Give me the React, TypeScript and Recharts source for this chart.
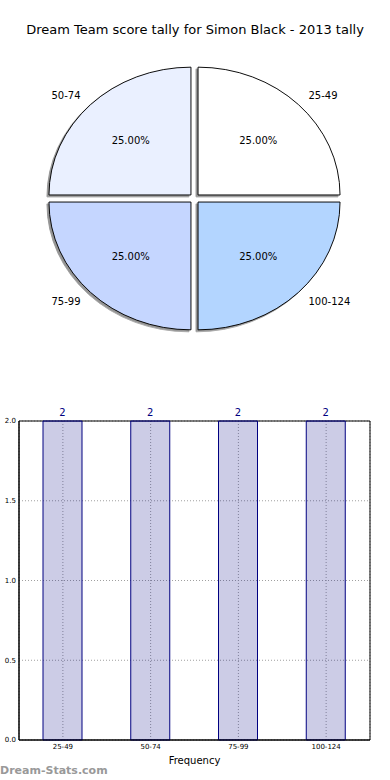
import React from 'react';
import {
  PieChart, Pie, Cell, BarChart, Bar, XAxis, YAxis, CartesianGrid, LabelList, ReferenceArea, Label,
} from 'recharts';

const TITLE = 'Dream Team score tally for Simon Black - 2013 tally';
const categories = ['25-49', '50-74', '75-99', '100-124'];
const frequencies = [2, 2, 2, 2];
const sliceColors = ['#FFFFFF', '#EAF0FF', '#C5D6FF', '#B3D5FF'];
const yTicks = [0, 0.5, 1.0, 1.5, 2.0];

const pieData = categories.map((name, i) => ({ name, value: frequencies[i] }));
const barData = categories.map((name, i) => ({ name, value: frequencies[i] }));

const FONT = '"DejaVu Sans", sans-serif';
const CX = 194.5;
const CY = 198.5;
const R = 142;
const K = 0.9; // vertical squash of matplotlib's non-equal aspect
const EXPLODE = 5;
const RAD = Math.PI / 180;

const total = frequencies.reduce((a, b) => a + b, 0);
const midAngles = (() => {
  let cum = 0;
  return frequencies.map((v) => {
    const m = ((cum + v / 2) / total) * 360;
    cum += v;
    return m;
  });
})();

const renderPieLabel = (props: any) => {
  const { cx, cy, midAngle, outerRadius, percent, name, index } = props;
  const c = Math.cos(-midAngle * RAD);
  const s = Math.sin(-midAngle * RAD);
  const ex = cx + EXPLODE * c;
  const ey = cy + EXPLODE * s;
  return (
    <g key={`lab-${index}`}>
      <text
        x={ex + 1.1 * outerRadius * c}
        y={ey + 1.1 * outerRadius * K * s}
        textAnchor={c > 0 ? 'start' : 'end'}
        dominantBaseline="central"
        fontFamily={FONT}
        fontSize={10}
        fill="#000"
      >
        {name}
      </text>
      <text
        x={ex + 0.6 * outerRadius * c}
        y={ey + 0.6 * outerRadius * K * s}
        textAnchor="middle"
        dominantBaseline="central"
        fontFamily={FONT}
        fontSize={10}
        fill="#000"
      >
        {(percent * 100).toFixed(2)}%
      </text>
    </g>
  );
};

export default function App() {
  return (
    <div style={{ position: 'absolute', left: 0, top: 0, width: 390, height: 780, background: '#fff' }}>
      <div
        style={{
          position: 'absolute', left: 0, top: 21, width: 390, textAlign: 'center',
          fontFamily: FONT, fontSize: 13, color: '#000', lineHeight: '18px',
        }}
      >
        {TITLE}
      </div>
      <div style={{ position: 'absolute', left: 0, top: 0 }}>
        <PieChart width={390} height={390} margin={{ top: 0, right: 0, bottom: 0, left: 0 }}>
          <Pie
            data={pieData}
            dataKey="value"
            nameKey="name"
            cx={CX}
            cy={CY}
            outerRadius={R}
            startAngle={0}
            endAngle={360}
            stroke="#000"
            strokeWidth={1}
            label={renderPieLabel}
            labelLine={false}
            isAnimationActive={false}
          >
            {pieData.map((d, i) => {
              const c = Math.cos(-midAngles[i] * RAD);
              const s = Math.sin(-midAngles[i] * RAD);
              return (
                <Cell
                  key={d.name}
                  fill={sliceColors[i]}
                  style={{
                    transformOrigin: `${CX}px ${CY}px`,
                    transform: `translate(${EXPLODE * c}px, ${EXPLODE * s}px) scaleY(${K})`,
                    filter: 'drop-shadow(-2px 2.5px 0px rgba(0,0,0,0.42))',
                  }}
                />
              );
            })}
          </Pie>
        </PieChart>
      </div>
      <div style={{ position: 'absolute', left: 0, top: 390 }}>
        <BarChart
          width={390}
          height={390}
          data={barData}
          margin={{ top: 31, right: 20, bottom: 10, left: 0 }}
        >
          <CartesianGrid stroke="#a0a0a0" strokeDasharray="1 2" />
          <XAxis
            dataKey="name"
            height={30}
            tickSize={0}
            tickMargin={4}
            tick={{ fontFamily: FONT, fontSize: 7, fill: '#000' }}
            axisLine={{ stroke: '#000' }}
            interval={0}
          >
            <Label value="Frequency" position="insideBottom" offset={6} fontFamily={FONT} fontSize={10} fill="#000" />
          </XAxis>
          <YAxis
            width={19}
            domain={[0, 2]}
            ticks={yTicks}
            tickFormatter={(v: number) => v.toFixed(1)}
            tickSize={0}
            tickMargin={3}
            tick={{ fontFamily: FONT, fontSize: 7, fill: '#000' }}
            axisLine={{ stroke: '#000' }}
          />
          <ReferenceArea y1={0} y2={2} fill="none" stroke="#000" strokeWidth={1} />
          <Bar
            dataKey="value"
            barSize={39}
            fill="#000080"
            fillOpacity={0.2}
            stroke="#000080"
            strokeWidth={1}
            isAnimationActive={false}
          >
            <LabelList dataKey="value" position="top" offset={5} fill="#000080" fontFamily={FONT} fontSize={10} />
          </Bar>
        </BarChart>
      </div>
      <div
        style={{
          position: 'absolute', left: 0, top: 763, fontFamily: FONT, fontSize: 11,
          fontWeight: 'bold', color: '#999', lineHeight: '16px',
        }}
      >
        Dream-Stats.com
      </div>
    </div>
  );
}
